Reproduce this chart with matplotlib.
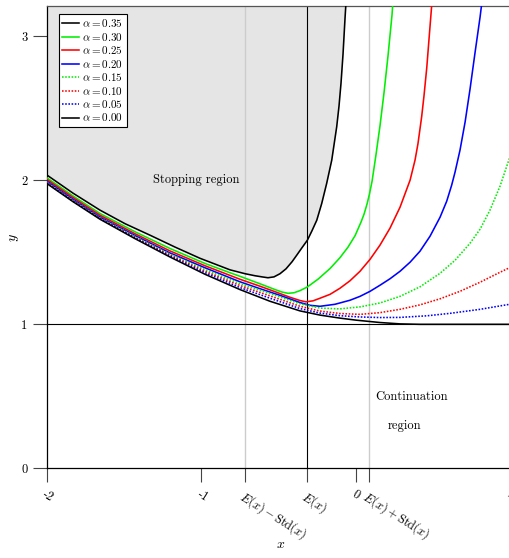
import matplotlib
matplotlib.use('Agg')
import matplotlib.pyplot as plt

plt.rcParams['font.family'] = ['cmr10', 'DejaVu Serif']
plt.rcParams['mathtext.fontset'] = 'cm'
plt.rcParams['axes.unicode_minus'] = False

# ---------------------------------------------------------------------------
# Values
# ---------------------------------------------------------------------------
E_X = -0.317       # E(x)
STD_X = 0.40       # Std(x)

alphas = ['0.35', '0.30', '0.25', '0.20', '0.15', '0.10', '0.05', '0.00']

x_a35 = [-2.0, -1.832, -1.657, -1.495, -1.333, -1.172, -1.010, -0.816,
         -0.718, -0.654, -0.608, -0.570, -0.531, -0.492, -0.453, -0.414,
         -0.384, -0.350, -0.315, -0.285, -0.254, -0.222, -0.190, -0.157,
         -0.125, -0.110, -0.097, -0.084, -0.071, -0.065]
y_a35 = [2.035, 1.910, 1.792, 1.698, 1.618, 1.536, 1.458, 1.378,
         1.351, 1.337, 1.329, 1.323, 1.329, 1.351, 1.385, 1.434,
         1.479, 1.531, 1.583, 1.649, 1.722, 1.838, 1.977, 2.139,
         2.370, 2.514, 2.674, 2.875, 3.125, 3.229]

x_a30 = [-2.0, -1.832, -1.657, -1.430, -1.204, -0.977, -0.816, -0.751,
         -0.621, -0.524, -0.479, -0.440, -0.401, -0.362, -0.315, -0.246,
         -0.168, -0.104, -0.052, -0.006, 0.032, 0.052, 0.071, 0.087, 0.104,
         0.129, 0.155, 0.181, 0.207, 0.233, 0.241]
y_a30 = [2.016, 1.891, 1.769, 1.642, 1.526, 1.422, 1.358, 1.333,
         1.281, 1.241, 1.224, 1.215, 1.219, 1.234, 1.259, 1.313,
         1.387, 1.462, 1.535, 1.615, 1.708, 1.764, 1.833, 1.903, 1.993,
         2.174, 2.375, 2.604, 2.861, 3.146, 3.271]

x_a25 = [-2.0, -1.832, -1.657, -1.430, -1.204, -0.977, -0.751, -0.621,
         -0.524, -0.427, -0.362, -0.324, -0.278, -0.233, -0.168, -0.104,
         -0.039, 0.026, 0.091, 0.155, 0.220, 0.285, 0.350, 0.382, 0.401,
         0.425, 0.440, 0.458, 0.472, 0.490, 0.495]
y_a25 = [2.005, 1.880, 1.757, 1.628, 1.509, 1.406, 1.3125, 1.264,
         1.226, 1.1875, 1.165, 1.156, 1.163, 1.181, 1.208, 1.250,
         1.302, 1.368, 1.451, 1.549, 1.667, 1.8125, 2.0, 2.139, 2.253,
         2.441, 2.585, 2.781, 2.972, 3.215, 3.285]

x_a20 = [-2.0, -1.832, -1.657, -1.430, -1.204, -0.977, -0.751, -0.621,
         -0.492, -0.362, -0.298, -0.233, -0.136, -0.039, 0.026, 0.091,
         0.155, 0.220, 0.285, 0.350, 0.414, 0.479, 0.544, 0.587, 0.619,
         0.641, 0.673, 0.706, 0.738, 0.770, 0.803, 0.819]
y_a20 = [1.993, 1.868, 1.745, 1.616, 1.495, 1.392, 1.295, 1.247,
         1.201, 1.151, 1.132, 1.125, 1.139, 1.167, 1.194, 1.229,
         1.271, 1.316, 1.368, 1.431, 1.507, 1.611, 1.743, 1.854, 1.965,
         2.056, 2.208, 2.403, 2.632, 2.882, 3.132, 3.271]

x_a15 = [-2.0, -1.832, -1.657, -1.430, -1.204, -0.977, -0.751, -0.557,
         -0.362, -0.233, -0.104, 0.026, 0.155, 0.285, 0.414, 0.544, 0.641,
         0.738, 0.803, 0.867, 0.932, 1.0]
y_a15 = [1.986, 1.861, 1.740, 1.609, 1.4875, 1.379, 1.283, 1.213,
         1.142, 1.1125, 1.107, 1.121, 1.148, 1.194, 1.260, 1.354, 1.444,
         1.5625, 1.660, 1.792, 1.958, 2.174]

x_a10 = [-2.0, -1.832, -1.657, -1.430, -1.204, -0.977, -0.751, -0.557,
         -0.362, -0.233, -0.104, 0.026, 0.155, 0.285, 0.414, 0.544, 0.673,
         0.803, 0.932, 1.0]
y_a10 = [1.983, 1.858, 1.736, 1.603, 1.481, 1.368, 1.269, 1.197,
         1.125, 1.092, 1.075, 1.069, 1.081, 1.104, 1.135, 1.177, 1.229,
         1.292, 1.361, 1.396]

x_a05 = [-2.0, -1.832, -1.657, -1.430, -1.204, -0.977, -0.751, -0.557,
         -0.362, -0.233, -0.104, 0.026, 0.155, 0.285, 0.458, 0.608, 0.803,
         1.0]
y_a05 = [1.979, 1.854, 1.733, 1.599, 1.474, 1.358, 1.255, 1.181,
         1.109, 1.078, 1.060, 1.051, 1.047, 1.048, 1.059, 1.076, 1.104,
         1.140]

x_a00 = [-2.0, -1.832, -1.657, -1.430, -1.204, -0.977, -0.751, -0.557,
         -0.362, -0.233, -0.104, 0.0, 0.155, 0.285, 0.414, 1.0]
y_a00 = [1.976, 1.851, 1.729, 1.594, 1.467, 1.347, 1.241, 1.160,
         1.093, 1.064, 1.043, 1.029, 1.0125, 1.003, 1.0, 1.0]

x_ticks = [-2, -1, E_X - STD_X, E_X, 0, E_X + STD_X, 1]
x_tick_labels = ['-2', '-1', r'$E(x) - \mathrm{Std}(x)$', r'$E(x)$', '0',
                 r'$E(x) + \mathrm{Std}(x)$', '1']
y_ticks = [0, 1, 2, 3]

# ---------------------------------------------------------------------------
# Figure
# ---------------------------------------------------------------------------
fig = plt.figure(figsize=(5.09, 5.58), dpi=100)
ax = fig.add_axes([0.0923, 0.1604, 0.9107, 0.8294])
ax.set_xlim(-2, 1)
ax.set_ylim(0, 3.21)

# stopping region
ax.fill_between(x_a35, y_a35, 4, color='#e5e5e5', lw=0, zorder=0)

ax.axvline(E_X - STD_X, color='#cccccc', lw=1.0, zorder=1)
ax.axvline(E_X + STD_X, color='#cccccc', lw=1.0, zorder=1)
ax.axvline(E_X, color='black', lw=0.8, zorder=1)
ax.axhline(1, color='black', lw=0.8, zorder=1)

curves = [
    (x_a35, y_a35, 'black', '-'),
    (x_a30, y_a30, '#00ee00', '-'),
    (x_a25, y_a25, 'red', '-'),
    (x_a20, y_a20, 'blue', '-'),
    (x_a15, y_a15, '#00ee00', ':'),
    (x_a10, y_a10, 'red', ':'),
    (x_a05, y_a05, 'blue', ':'),
    (x_a00, y_a00, 'black', '-'),
]
for (xs, ys, col, ls), a in zip(curves, alphas):
    line, = ax.plot(xs, ys, color=col, ls=ls, lw=1.15,
                    label=rf'$\alpha = {a}$', zorder=3,
                    solid_joinstyle='round')
    if ls == ':':
        line.set_dashes((1.0, 1.0))

ax.text(-1.036, 2.0, 'Stopping region', ha='center', va='center', fontsize=9)
ax.text(0.362, 0.493, 'Continuation', ha='center', va='center', fontsize=9)
ax.text(0.311, 0.292, 'region', ha='center', va='center', fontsize=9)

ax.set_xticks(x_ticks)
ax.set_xticklabels(x_tick_labels, rotation=-32, ha='left', va='top',
                   rotation_mode='anchor', fontsize=9)
ax.set_yticks(y_ticks)
ax.set_yticklabels([str(t) for t in y_ticks], fontsize=9)
ax.tick_params(direction='out', length=10, width=0.8, color='#444444',
               pad=4)

ax.set_xlabel(r'$x$', fontsize=10)
ax.xaxis.set_label_coords(0.503, -0.152)
ax.set_ylabel(r'$y$', fontsize=10)
ax.yaxis.set_label_coords(-0.055, 0.50)

for side in ['left', 'bottom']:
    ax.spines[side].set_color('black')
    ax.spines[side].set_linewidth(0.9)
ax.spines['top'].set_color('#555555')
ax.spines['top'].set_linewidth(0.9)

leg = ax.legend(loc='upper left', bbox_to_anchor=(0.014, 0.994),
                fontsize=8, handlelength=1.5, handletextpad=0.3,
                labelspacing=0.13, borderpad=0.3, fancybox=False,
                framealpha=1, edgecolor='black')
leg.get_frame().set_linewidth(0.8)

fig.savefig('out.png', dpi=100)
